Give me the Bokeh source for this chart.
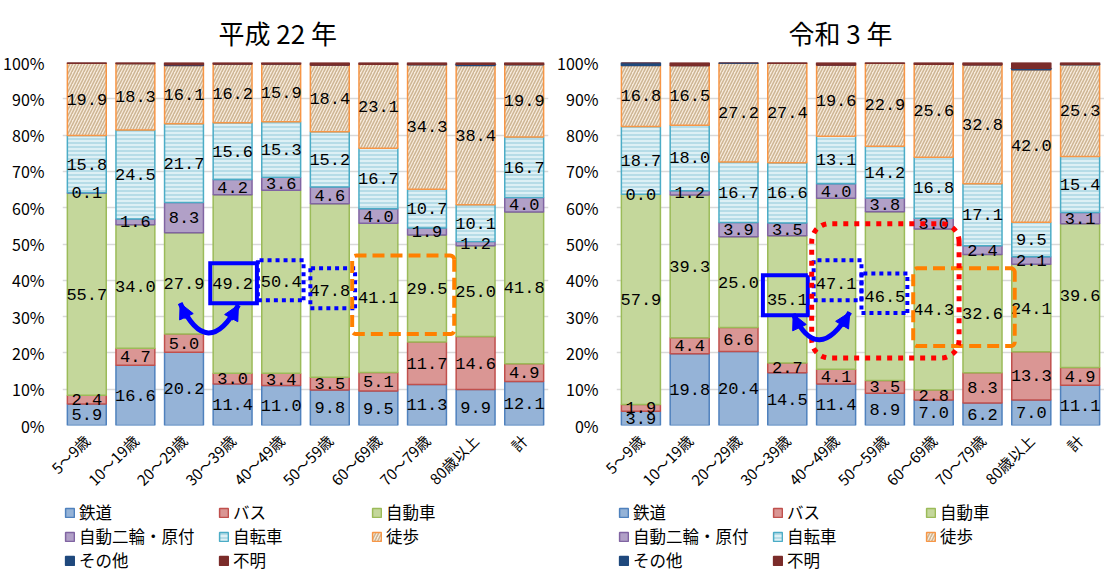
import math
import numpy as np
from bokeh.plotting import figure
from bokeh.layouts import row, column
from bokeh.models import (ColumnDataSource, Range1d, Legend, LegendItem, Arrow,
                          NormalHead, FixedTicker, PrintfTickFormatter)
from bokeh.core.properties import value
from bokeh.transform import stack
from bokeh.embed import file_html
from bokeh.resources import INLINE

# ---------------- data ----------------
ages = ["5～9歳", "10～19歳", "20～29歳", "30～39歳", "40～49歳",
        "50～59歳", "60～69歳", "70～79歳", "80歳以上", "計"]
modes = ["鉄道", "バス", "自動車", "自動二輪・原付", "自転車", "徒歩", "その他", "不明"]

h22_rail = [5.9, 16.6, 20.2, 11.4, 11.0, 9.8, 9.5, 11.3, 9.9, 12.1]
h22_bus = [2.4, 4.7, 5.0, 3.0, 3.4, 3.5, 5.1, 11.7, 14.6, 4.9]
h22_car = [55.7, 34.0, 27.9, 49.2, 50.4, 47.8, 41.1, 29.5, 25.0, 41.8]
h22_moto = [0.1, 1.6, 8.3, 4.2, 3.6, 4.6, 4.0, 1.9, 1.2, 4.0]
h22_bike = [15.8, 24.5, 21.7, 15.6, 15.3, 15.2, 16.7, 10.7, 10.1, 16.7]
h22_walk = [19.9, 18.3, 16.1, 16.2, 15.9, 18.4, 23.1, 34.3, 38.4, 19.9]
h22_other = [0.0, 0.0, 0.2, 0.0, 0.0, 0.0, 0.0, 0.1, 0.3, 0.1]
h22_unknown = [0.2, 0.3, 0.6, 0.4, 0.4, 0.7, 0.5, 0.5, 0.5, 0.5]

r3_rail = [3.9, 19.8, 20.4, 14.5, 11.4, 8.9, 7.0, 6.2, 7.0, 11.1]
r3_bus = [1.9, 4.4, 6.6, 2.7, 4.1, 3.5, 2.8, 8.3, 13.3, 4.9]
r3_car = [57.9, 39.3, 25.0, 35.1, 47.1, 46.5, 44.3, 32.6, 24.1, 39.6]
r3_moto = [0.0, 1.2, 3.9, 3.5, 4.0, 3.8, 3.0, 2.4, 2.1, 3.1]
r3_bike = [18.7, 18.0, 16.7, 16.6, 13.1, 14.2, 16.8, 17.1, 9.5, 15.4]
r3_walk = [16.8, 16.5, 27.2, 27.4, 19.6, 22.9, 25.6, 32.8, 42.0, 25.3]
r3_other = [0.8, 0.0, 0.2, 0.0, 0.0, 0.0, 0.0, 0.0, 0.4, 0.1]
r3_unknown = [0.0, 0.8, 0.0, 0.2, 0.7, 0.2, 0.5, 0.6, 1.6, 0.5]

# ---------------- styles ----------------
KEYS = ["rail", "bus", "car", "moto", "bike", "walk", "other", "unknown"]
FILLS = ["#95B3D7", "#DA9694", "#C4D79B", "#B1A0C7", "#DDF0F5", "#F7EBDD", "#1F497D", "#7B2C2A"]
LINES = ["#4F81BD", "#C0504D", "#9BBB59", "#8064A2", "#4BACC6", "#F79646", "#1F497D", "#7B2C2A"]
HATCH = [None, None, None, None, "horizontal_line", "right_diagonal_line", None, None]
HATCH_COL = [None, None, None, None, "#9CCFDD", "#CDB593", None, None]
HATCH_SCALE = [None, None, None, None, 4, 6, None, None]
HATCH_W = [None, None, None, None, 1.2, 1.5, None, None]
BLUE = "#0000FF"
ORANGE = "#FF8000"
RED = "#FF0000"
JP = "Noto Sans CJK JP"

CHART_H = 500
LEG_H = 72
FRAME_W = 494
FRAME_H = 365
PXX = FRAME_W / 10.0
PXY = FRAME_H / 100.0


def style(i):
    kw = dict(fill_color=FILLS[i], line_color=LINES[i], line_width=1.5)
    if HATCH[i]:
        kw.update(hatch_pattern=HATCH[i], hatch_color=HATCH_COL[i],
                  hatch_scale=HATCH_SCALE[i], hatch_weight=HATCH_W[i])
    return kw


def rbox(x0, x1, y0, y1, r):
    rx, ry = r / PXX, r / PXY
    xs, ys = [], []
    corners = [(x1 - rx, y1 - ry, 0, 90), (x0 + rx, y1 - ry, 90, 180),
               (x0 + rx, y0 + ry, 180, 270), (x1 - rx, y0 + ry, 270, 360)]
    for cx, cy, a0, a1 in corners:
        t = np.radians(np.linspace(a0, a1, 12))
        xs += list(cx + rx * np.cos(t))
        ys += list(cy + ry * np.sin(t))
    xs.append(xs[0])
    ys.append(ys[0])
    return xs, ys


def curved_arrow(p, P0, B, P2):
    C = (2 * B[0] - 0.5 * (P0[0] + P2[0]), 2 * B[1] - 0.5 * (P0[1] + P2[1]))
    p.quadratic(x0=[P0[0]], y0=[P0[1]], x1=[P2[0]], y1=[P2[1]], cx=[C[0]], cy=[C[1]],
                line_color=BLUE, line_width=5)
    for P in (P0, P2):
        s = (P[0] + 0.25 * (C[0] - P[0]), P[1] + 0.25 * (C[1] - P[1]))
        p.add_layout(Arrow(end=NormalHead(size=15, fill_color=BLUE, line_color=BLUE, line_width=1),
                           x_start=s[0], y_start=s[1], x_end=P[0], y_end=P[1],
                           line_color=BLUE, line_width=5))


def make_chart(title, series, width, lb, rb, title_offset):
    data = {"age": ages}
    for k, v in zip(KEYS, series):
        data[k] = v
    src = ColumnDataSource(data)

    p = figure(x_range=ages, y_range=Range1d(0, 100), width=width, height=CHART_H,
               output_backend="svg", toolbar_location=None,
               min_border_left=lb, min_border_right=rb, min_border_top=30,
               min_border_bottom=30, outline_line_color=None,
               title=title)
    p.title.align = "left"
    p.title.text_font = JP
    p.title.text_font_size = "26px"
    p.title.text_font_style = "normal"
    p.title.text_color = "black"
    p.title.offset = title_offset
    p.title.standoff = 23

    for i, k in enumerate(KEYS):
        p.vbar(x="age", width=0.8, bottom=stack(*KEYS[:i]), top=stack(*KEYS[:i + 1]),
               source=src, **style(i))

    # value labels
    lx, ly, lt = [], [], []
    for j, a in enumerate(ages):
        base = 0.0
        for i in range(6):
            v = series[i][j]
            lx.append(a)
            ly.append(base + v / 2.0)
            lt.append(f"{v:.1f}")
            base += v
    p.text(x="x", y="y", text="t", source=ColumnDataSource(dict(x=lx, y=ly, t=lt)),
           text_align="center", text_baseline="middle", text_color="black",
           text_font=value("Liberation Mono"), text_font_size="17px")

    # axes
    p.xgrid.grid_line_color = None
    p.ygrid.grid_line_color = "#D9D9D9"
    p.ygrid.grid_line_width = 1.5
    p.yaxis.ticker = FixedTicker(ticks=list(range(0, 101, 10)))
    p.yaxis.formatter = PrintfTickFormatter(format="%d%%")
    for ax in (p.xaxis, p.yaxis):
        ax.axis_line_color = None
        ax.major_tick_line_color = None
        ax.minor_tick_line_color = None
        ax.major_label_text_font = JP
        ax.major_label_text_color = "black"
    p.yaxis.major_label_text_font_size = "16px"
    p.yaxis.major_label_standoff = 12
    p.xaxis.major_label_text_font_size = "15px"
    p.xaxis.major_label_orientation = math.pi / 4
    p.xaxis.major_label_standoff = 6
    return p


def make_legend(width, xs):
    q = figure(width=width, height=LEG_H, x_range=Range1d(0, 1), y_range=Range1d(0, 1),
               output_backend="svg", toolbar_location=None, x_axis_type=None,
               y_axis_type=None, min_border=0, outline_line_color=None)
    q.xgrid.grid_line_color = None
    q.ygrid.grid_line_color = None
    rends = {}
    for i, k in enumerate(KEYS):
        # zero-size legend proxies (only their style is shown, in the legend)
        rends[k] = q.vbar(x=[0.99], bottom=[0.01], top=[0.01], width=0.0, **style(i))
    cols = [["rail", "moto", "other"], ["bus", "bike", "unknown"], ["car", "walk"]]
    for keys, vx in zip(cols, xs):
        items = [LegendItem(label=modes[KEYS.index(k)], renderers=[rends[k]]) for k in keys]
        vy = 0 + 24 * (3 - len(keys))
        leg = Legend(items=items, location=(vx, vy), orientation="vertical",
                     padding=0, margin=0, spacing=0, label_height=17, glyph_height=11,
                     glyph_width=11, label_standoff=4, border_line_alpha=0,
                     background_fill_alpha=0, label_text_font=JP,
                     label_text_font_size="16.5px", label_text_color="black")
        q.add_layout(leg)
    return q


p1 = make_chart("平成 22 年",
                [h22_rail, h22_bus, h22_car, h22_moto, h22_bike, h22_walk, h22_other, h22_unknown],
                554, 54, 6, 156)
p2 = make_chart("令和 3 年",
                [r3_rail, r3_bus, r3_car, r3_moto, r3_bike, r3_walk, r3_other, r3_unknown],
                550, 56, 0, 172)
l1 = make_legend(554, [2, 156, 309])
l2 = make_legend(550, [2, 156, 309])

# ---------------- annotations: left (平成22年) ----------------
x, y = rbox(3.04, 4.0, 33.7, 44.7, 0)
p1.line(x, y, line_color=BLUE, line_width=4, line_join="miter")
x, y = rbox(4.02, 4.96, 34.5, 45.5, 0)
p1.line(x, y, line_color=BLUE, line_width=4, line_dash="4 4")
x, y = rbox(5.1, 6.02, 32.3, 43.3, 0)
p1.line(x, y, line_color=BLUE, line_width=4, line_dash="4 4")
x, y = rbox(5.96, 8.06, 25.2, 46.8, 4)
p1.line(x, y, line_color=ORANGE, line_width=4, line_dash="12 6")
curved_arrow(p1, (2.42, 33.7), (3.0, 25.5), (3.62, 33.2))

# ---------------- annotations: right (令和3年) ----------------
x, y = rbox(3.0, 3.92, 30.4, 41.4, 0)
p2.line(x, y, line_color=BLUE, line_width=4, line_join="miter")
x, y = rbox(4.04, 5.02, 34.5, 45.5, 0)
p2.line(x, y, line_color=BLUE, line_width=4, line_dash="4 4")
x, y = rbox(5.02, 5.96, 31.0, 41.9, 0)
p2.line(x, y, line_color=BLUE, line_width=4, line_dash="4 4")
x, y = rbox(6.08, 8.16, 21.9, 43.3, 4)
p2.line(x, y, line_color=ORANGE, line_width=4, line_dash="12 6")
x, y = rbox(4.0, 7.02, 18.6, 55.6, 18)
p2.line(x, y, line_color=RED, line_width=5, line_dash="5 6")
curved_arrow(p2, (3.62, 30.7), (4.16, 23.6), (4.78, 31.2))

layout = row(column(p1, l1), column(p2, l2))
open("out.html", "w").write(file_html(layout, INLINE))
